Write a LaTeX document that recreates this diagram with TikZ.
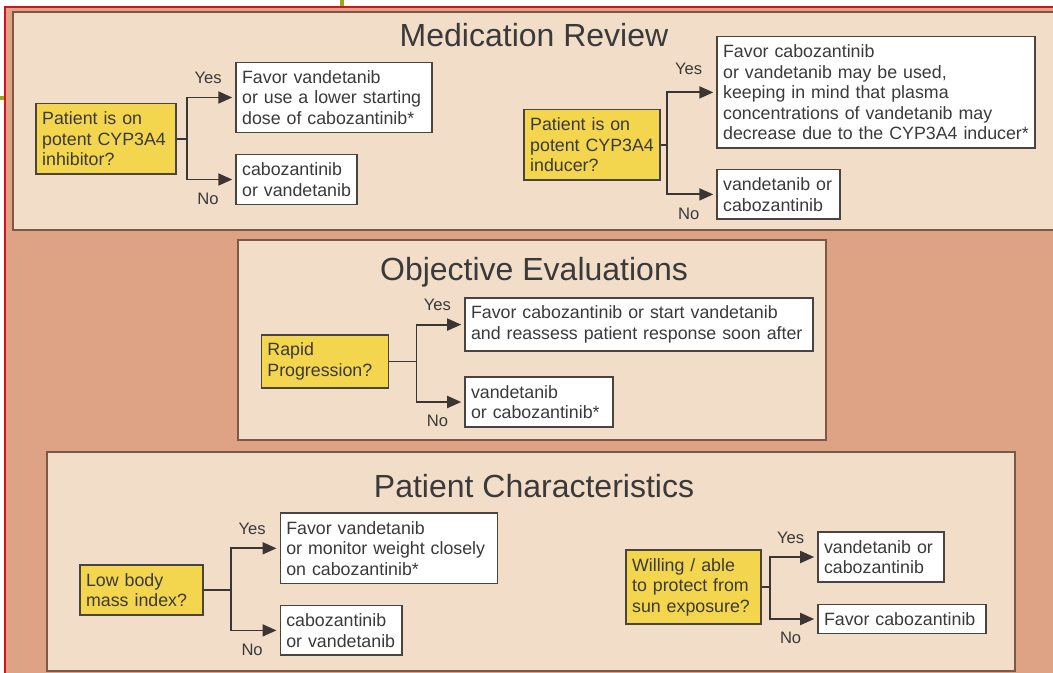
\documentclass[tikz,border=0pt]{standalone}
\usepackage{fontspec}
\setmainfont{Liberation Sans}
\usetikzlibrary{arrows.meta, positioning}
\definecolor{salmon}{HTML}{DEA284}
\definecolor{peach}{HTML}{F2DDC8}
\definecolor{frame}{HTML}{7E5847}
\definecolor{qyellow}{HTML}{F3D54E}
\definecolor{outline}{HTML}{4A4440}
\definecolor{ink}{HTML}{3A3A3A}
\definecolor{redline}{HTML}{D0161B}
\definecolor{olive}{HTML}{9BA81E}

\begin{document}
\begin{tikzpicture}[
  x=0.5pt, y=-0.5pt,
  panel/.style={draw=frame, fill=peach, line width=1.1pt},
  heading/.style={font=\fontsize{16}{19}\selectfont, text=ink},
  query/.style={
    rectangle, draw=outline, fill=qyellow, line width=0.8pt,
    font=\fontsize{8.9}{10.3}\selectfont, text=ink, align=left,
    inner xsep=3pt, inner ysep=4pt, anchor=west, text width=#1,
  },
  choice/.style={query=#1, fill=white},
  stem/.style={line width=0.9pt, draw=outline!80!black},
  arrow/.style={stem, -{Triangle[length=7pt, width=6pt]}, shorten >=1.5pt},
  yn/.style={font=\fontsize{8.3}{10}\selectfont, text=ink},
]
  \useasboundingbox (0,0) rectangle (1053,673);
  \clip (0,0) rectangle (1053,673);
  \fill[white] (0,0) rectangle (1053,673);
  \fill[salmon] (5,7) rectangle (1053,673);
  \draw[redline, line width=1.1pt] (5,673) -- (5,7) -- (1053,7);
  \draw[olive, line width=1.6pt] (342,0) -- (342,6);
  \draw[olive, line width=1.6pt] (0,98) -- (4,98);

  \draw[panel] (13,12) rectangle (1062,230);
  \draw[panel] (238,240) rectangle (826,440);
  \draw[panel] (47,452) rectangle (1015,671);

  \node[heading] (medrev) at (534,35) {Medication Review};
  \node[heading] (objeval) at (534,272) {Objective Evaluations};
  \node[heading] (ptchar) at (534,486) {Patient Characteristics};

  % medication review
  \node[query=64pt] (inhib) at (35.4,138.8) {Patient is on\\potent CYP3A4\\inhibitor?};
  \node[choice=92pt] (inhibyes) at (235.3,97.5) {Favor vandetanib\\or use a lower starting\\dose of cabozantinib*};
  \node[choice=54.5pt] (inhibno) at (235.3,179.5) {cabozantinib\\or vandetanib};
  \coordinate (inhibfork) at (186.7,138.8);
  \draw[stem] (inhib) -- (inhibfork);
  \draw[arrow] (inhibfork) |- (inhibyes) node[yn, pos=0.72, above=3pt] {Yes};
  \draw[arrow] (inhibfork) |- (inhibno) node[yn, pos=0.72, below=3pt] {No};

  \node[query=62pt] (induc) at (523.4,144.8) {Patient is on\\potent CYP3A4\\inducer?};
  \node[choice=153pt] (inducyes) at (716.3,92.4) {Favor cabozantinib\\or vandetanib may be used,\\keeping in mind that plasma\\concentrations of vandetanib may\\decrease due to the CYP3A4 inducer*};
  \node[choice=55.5pt] (inducno) at (716.3,194.4) {vandetanib or\\cabozantinib};
  \coordinate (inducfork) at (667,144.8);
  \draw[stem] (induc) -- (inducfork);
  \draw[arrow] (inducfork) |- (inducyes) node[yn, pos=0.72, above=5pt] {Yes};
  \draw[arrow] (inducfork) |- (inducno) node[yn, pos=0.72, below=3pt] {No};

  % objective evaluations
  \node[query=57.5pt] (rapid) at (260.6,361.4) {Rapid\\Progression?};
  \node[choice=168pt] (rapidyes) at (464.2,324.6) {Favor cabozantinib or start vandetanib\\and reassess patient response soon after};
  \node[choice=68pt] (rapidno) at (464.2,402) {vandetanib\\or cabozantinib*};
  \coordinate (rapidfork) at (416.4,361.4);
  \draw[stem] (rapid) -- (rapidfork);
  \draw[arrow] (rapidfork) |- (rapidyes) node[yn, pos=0.72, above=3pt] {Yes};
  \draw[arrow] (rapidfork) |- (rapidno) node[yn, pos=0.72, below=3pt] {No};

  % patient characteristics
  \node[query=55.5pt] (bmi) at (79.3,590) {Low body\\mass index?};
  \node[choice=102.5pt] (bmiyes) at (279.5,548.3) {Favor vandetanib\\or monitor weight closely\\on cabozantinib*};
  \node[choice=54.75pt] (bmino) at (279.5,630.4) {cabozantinib\\or vandetanib};
  \coordinate (bmifork) at (230.6,590);
  \draw[stem] (bmi) -- (bmifork);
  \draw[arrow] (bmifork) |- (bmiyes) node[yn, pos=0.72, above=3pt] {Yes};
  \draw[arrow] (bmifork) |- (bmino) node[yn, pos=0.72, below=3pt] {No};

  \node[query=61.5pt] (sun) at (625.3,587) {Willing / able\\to protect from\\sun exposure?};
  \node[choice=57pt] (sunyes) at (817.2,557) {vandetanib or\\cabozantinib};
  \node[choice=78pt] (sunno) at (817.2,619) {Favor cabozantinib};
  \coordinate (sunfork) at (769.7,587);
  \draw[stem] (sun) -- (sunfork);
  \draw[arrow] (sunfork) |- (sunyes) node[yn, pos=0.72, above=3pt] {Yes};
  \draw[arrow] (sunfork) |- (sunno) node[yn, pos=0.72, below=3pt] {No};
\end{tikzpicture}
\end{document}
